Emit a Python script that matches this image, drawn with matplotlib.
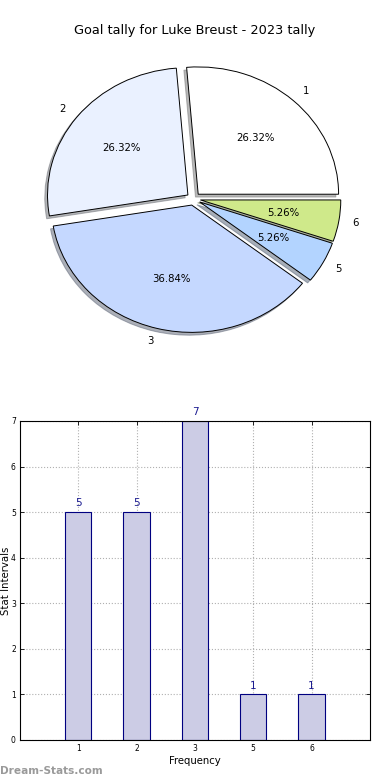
"""Goal tally pie + frequency bar chart."""

import matplotlib
matplotlib.use("Agg")
import matplotlib.pyplot as plt

# Data.
categories = ["1", "2", "3", "5", "6"]
tally = [5, 5, 7, 1, 1]
slice_colors = ["#ffffff", "#eaf1ff", "#c5d8ff", "#b3d4ff", "#cfe98a"]
title = "Goal tally for Luke Breust - 2023 tally"

fig = plt.figure(figsize=(3.9, 7.8), dpi=100)
fig.text(0.5, 0.961, title, ha="center", va="center", fontsize=9.3)

# Pie (old-style, not forced to equal aspect, so slightly elliptical).
ax_pie = fig.add_axes([0.046, 0.541, 0.900, 0.408])
wedges, texts, autotexts = ax_pie.pie(
    tally,
    labels=categories,
    colors=slice_colors,
    explode=[0.05] * len(tally),
    autopct="%.2f%%",
    shadow={"ox": -0.014, "oy": -0.016, "shade": 0.55},
    startangle=0,
    labeldistance=1.1,
    pctdistance=0.6,
    wedgeprops={"edgecolor": "black", "linewidth": 0.7},
    textprops={"fontsize": 7.3},
)
ax_pie.set_aspect("auto")
ax_pie.set_xlim(-1.25, 1.25)
ax_pie.set_ylim(-1.25, 1.25)
ax_pie.axis("off")

# Bar chart.
ax = fig.add_axes([0.0513, 0.0513, 0.897, 0.409])
x = list(range(len(categories)))
ax.bar(x, tally, width=0.45, color="#cccce5", edgecolor="#000080", linewidth=0.8,
       zorder=2)
for xi, v in zip(x, tally):
    ax.text(xi, v + 0.08, str(v), ha="center", va="bottom", color="#1a1a90",
            fontsize=7.5, zorder=3)

ax.set_xlim(-1, len(categories))
ax.set_ylim(0, 7)
ax.set_xticks(x)
ax.set_xticklabels(categories)
ax.set_yticks(range(0, 8))
ax.tick_params(axis="both", labelsize=5.5, direction="in", length=3, width=0.6,
               top=True, right=True, pad=3)
ax.grid(True, linestyle=":", color="#b0b0b0", linewidth=0.8, zorder=0)
ax.set_axisbelow(True)
for s in ax.spines.values():
    s.set_linewidth(0.8)
ax.set_xlabel("Frequency", fontsize=7.3, labelpad=2)
ax.set_ylabel("Stat Intervals", fontsize=7.3, labelpad=2)
ax.yaxis.set_label_coords(-0.025, 0.5)

fig.text(0.0, 0.012, "Dream-Stats.com", ha="left", va="center", fontsize=7.6,
         color="#9a9a9a", fontweight="bold")

fig.savefig("out.png", dpi=100)
